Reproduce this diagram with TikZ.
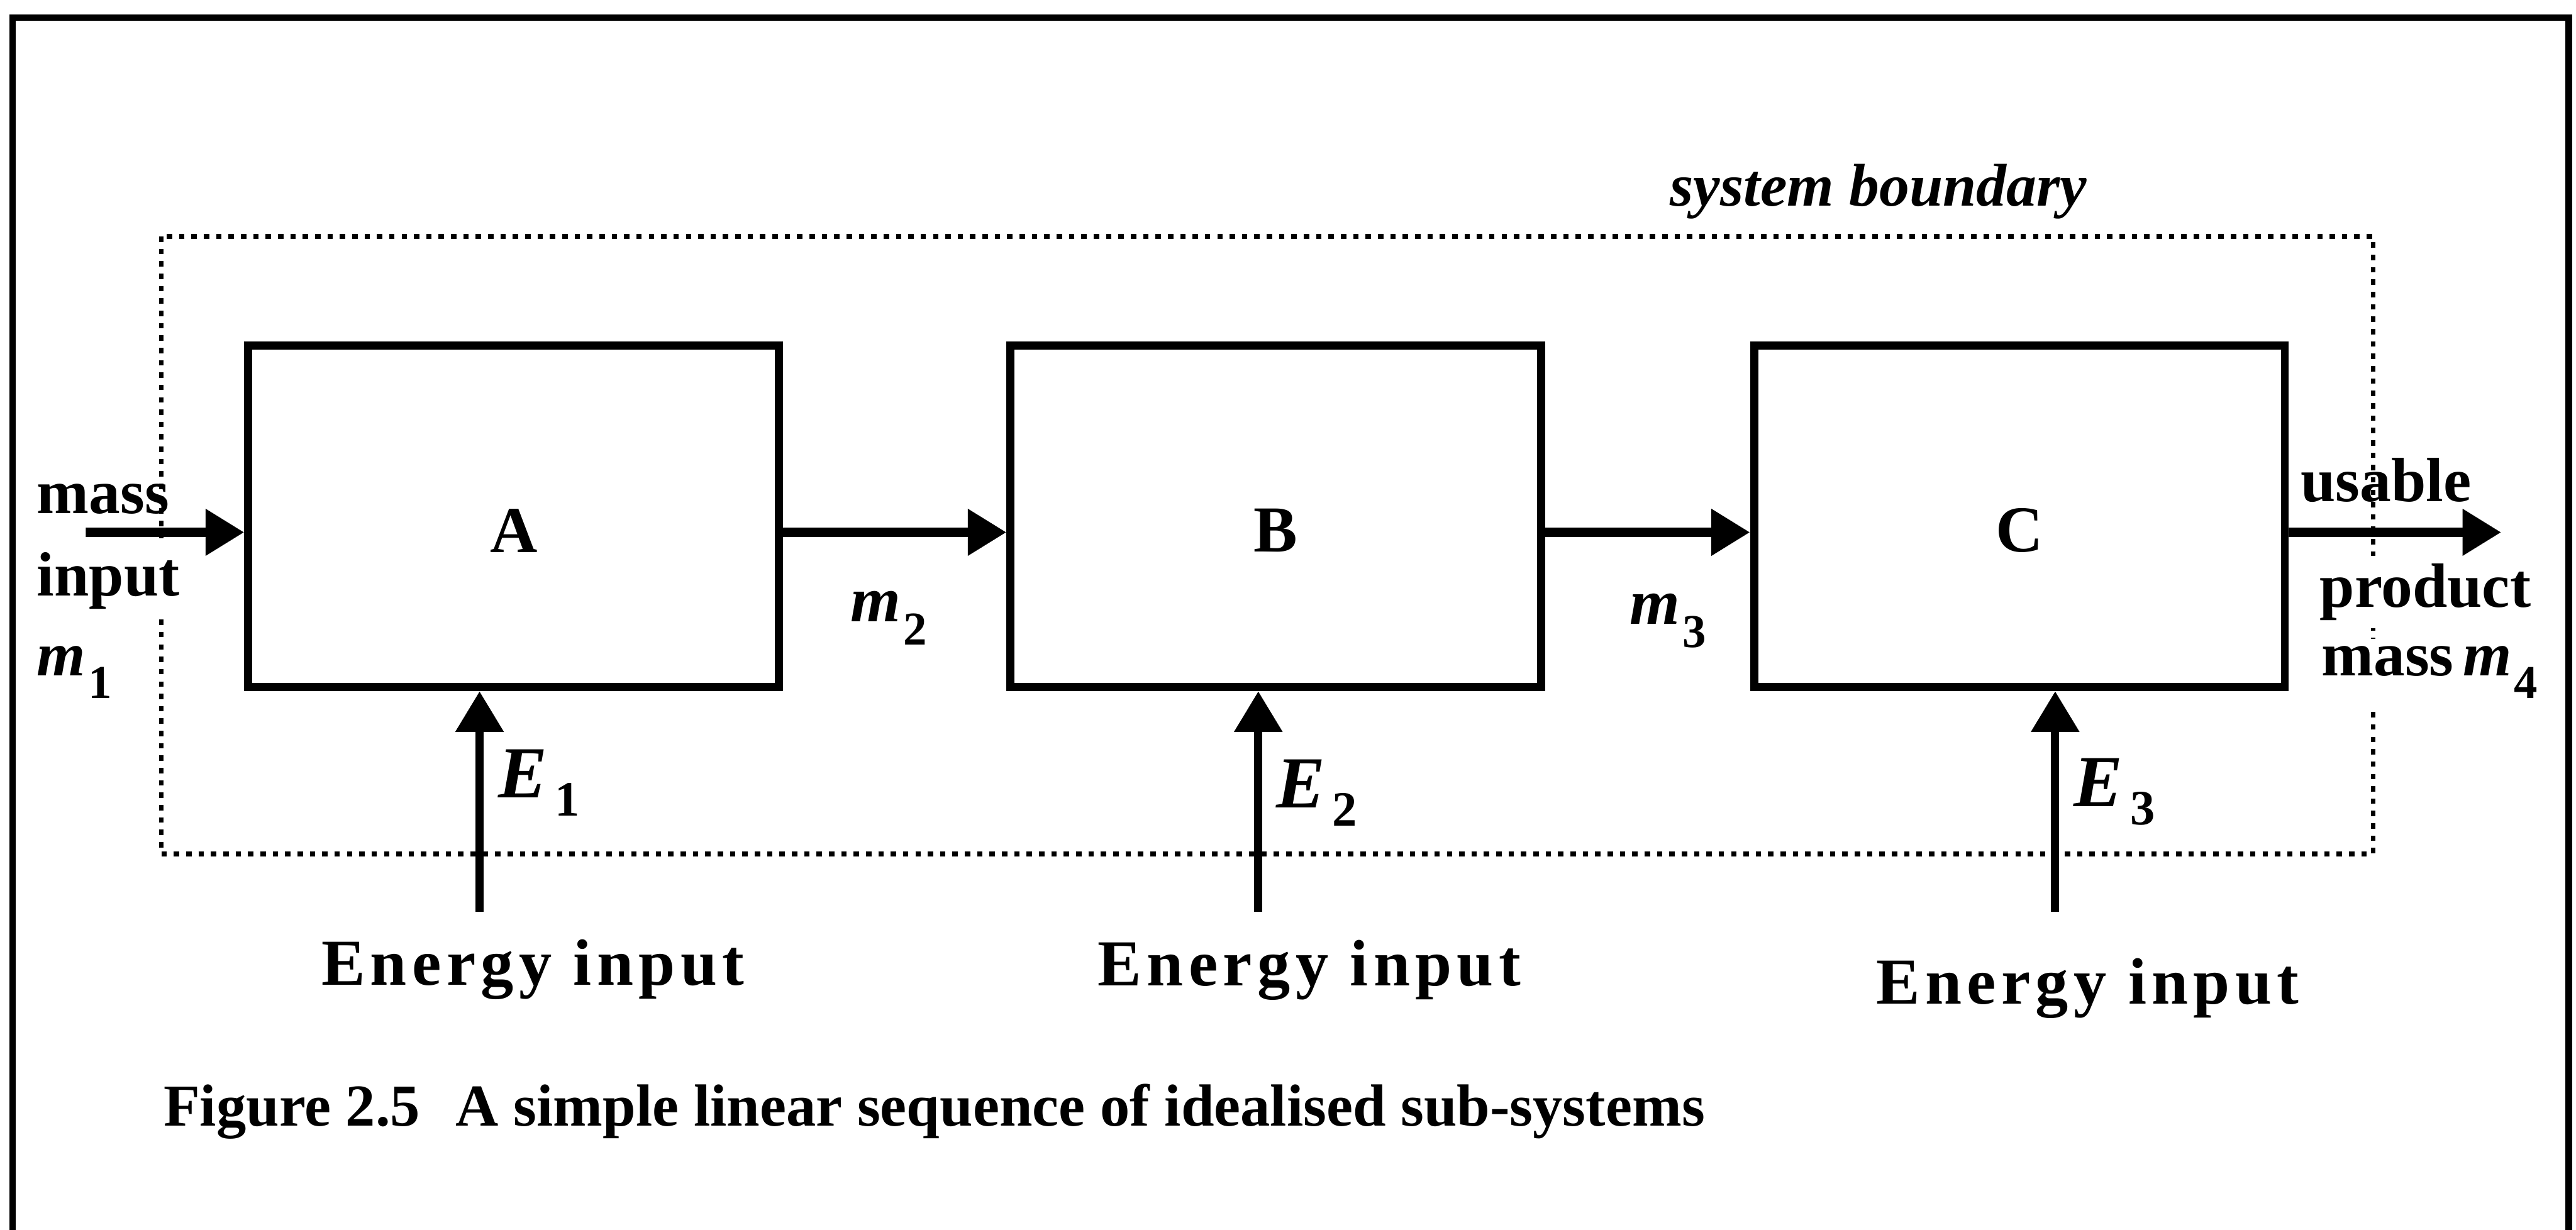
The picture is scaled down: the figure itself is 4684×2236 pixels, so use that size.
\documentclass[tikz,border=0pt]{standalone}
\usepackage{fontspec}
\setmainfont{Liberation Serif}
\newfontfamily\spacedfont[LetterSpace=8]{Liberation Serif}
\usepackage{tikz}
\usetikzlibrary{arrows.meta}

\newcommand{\mflow}[1]{\textit{m}\kern0.04em\raisebox{-0.36em}{\fontsize{12.2}{12.2}\selectfont #1}}
\newcommand{\eflow}[1]{\textit{E}\kern0.1em\raisebox{-0.25em}{\fontsize{12.8}{12.8}\selectfont #1}}

\begin{document}
\begin{tikzpicture}[x=0.005cm, y=-0.005cm,
    unit/.style={draw, line width=2.1pt, minimum width=4.83cm, minimum height=3.11cm, inner sep=0pt},
    unitname/.style={font=\fontsize{17}{17}\selectfont\bfseries, inner sep=0pt},
    flow/.style={line width=2.4pt, -{Triangle[length=10pt, width=11.5pt]}},
    supply/.style={line width=2.1pt, -{Triangle[length=10.5pt, width=12pt]}},
    boundary/.style={line width=1.2pt, dash pattern=on 1.4pt off 1.8pt},
    lbl/.style={font=\fontsize{16.2}{18}\selectfont\bfseries, inner sep=0pt, anchor=base west},
    mlbl/.style={font=\fontsize{16.7}{18}\selectfont\bfseries, inner sep=0pt, anchor=base west},
    elbl/.style={font=\fontsize{19}{20}\selectfont\bfseries, inner sep=0pt, anchor=base west},
    supplylbl/.style={font=\fontsize{17}{18}\selectfont\spacedfont\bfseries, inner sep=0pt, anchor=base west}]
  \useasboundingbox (0,0) rectangle (4684,2236);

  % outer frame and system boundary
  \draw[line width=1.7pt] (23,2300) -- (23,32) -- (4671,32) -- (4671,2300);
  \draw[boundary] (293,430) rectangle (4315,1553);
  \node[font=\fontsize{15.6}{16}\selectfont\bfseries\itshape, inner sep=0pt, anchor=base east] (sysb) at (3796,375) {system boundary};

  % sub-systems
  \node[unit] (A) at (934,939) {};
  \node[unit] (B) at (2320,939) {};
  \node[unit] (C) at (3672,939) {};
  \node[unitname] (Aname) at ([yshift=-1.3mm]A.center) {A};
  \node[unitname] (Bname) at ([yshift=-1.3mm]B.center) {B};
  \node[unitname] (Cname) at ([yshift=-1.3mm]C.center) {C};

  % mass flow
  \coordinate (min) at (156,968);
  \coordinate (mout) at (4548,968);
  \draw[flow] (min) -- ([yshift=-1.45mm]A.west);
  \draw[flow] ([yshift=-1.45mm]A.east) -- ([yshift=-1.45mm]B.west);
  \draw[flow] ([yshift=-1.45mm]B.east) -- ([yshift=-1.45mm]C.west);
  \draw[flow] ([yshift=-1.45mm]C.east) -- (mout);

  \node[lbl] (massin) at (66,934) {mass};
  \node[lbl, fill=white, inner ysep=2pt] (inputin) at (66,1084) {input};
  \node[lbl] (m1lbl) at (66,1229) {\mflow{1}};
  \node[mlbl] (m2lbl) at (1545,1130) {\mflow{2}};
  \node[mlbl] (m3lbl) at (2962,1135) {\mflow{3}};
  \node[lbl] (usable) at (4182,912) {usable};
  \node[lbl, fill=white, inner ysep=2pt] (product) at (4217,1104) {product};
  \node[lbl, fill=white, inner ysep=2pt] (massout) at (4220,1229) {mass\kern0.15em\mflow{4}};

  % energy inputs
  \coordinate (e1) at (872,1658);
  \coordinate (e2) at (2288,1658);
  \coordinate (e3) at (3737,1658);
  \draw[supply] (e1) -- (e1 |- A.south);
  \draw[supply] (e2) -- (e2 |- B.south);
  \draw[supply] (e3) -- (e3 |- C.south);
  \node[elbl] (E1lbl) at (905,1450) {\eflow{1}};
  \node[elbl] (E2lbl) at (2319,1469) {\eflow{2}};
  \node[elbl] (E3lbl) at (3770,1466) {\eflow{3}};
  \node[supplylbl] (in1) at (583,1791) {Energy input};
  \node[supplylbl] (in2) at (1995,1793) {Energy input};
  \node[supplylbl] (in3) at (3410,1826) {Energy input};

  % caption
  \node[font=\fontsize{15.4}{16}\selectfont\bfseries, inner sep=0pt, anchor=base west] (caption) at (296,2047)
    {Figure 2.5\hspace{0.6em}A simple linear sequence of idealised sub-systems};
\end{tikzpicture}
\end{document}
